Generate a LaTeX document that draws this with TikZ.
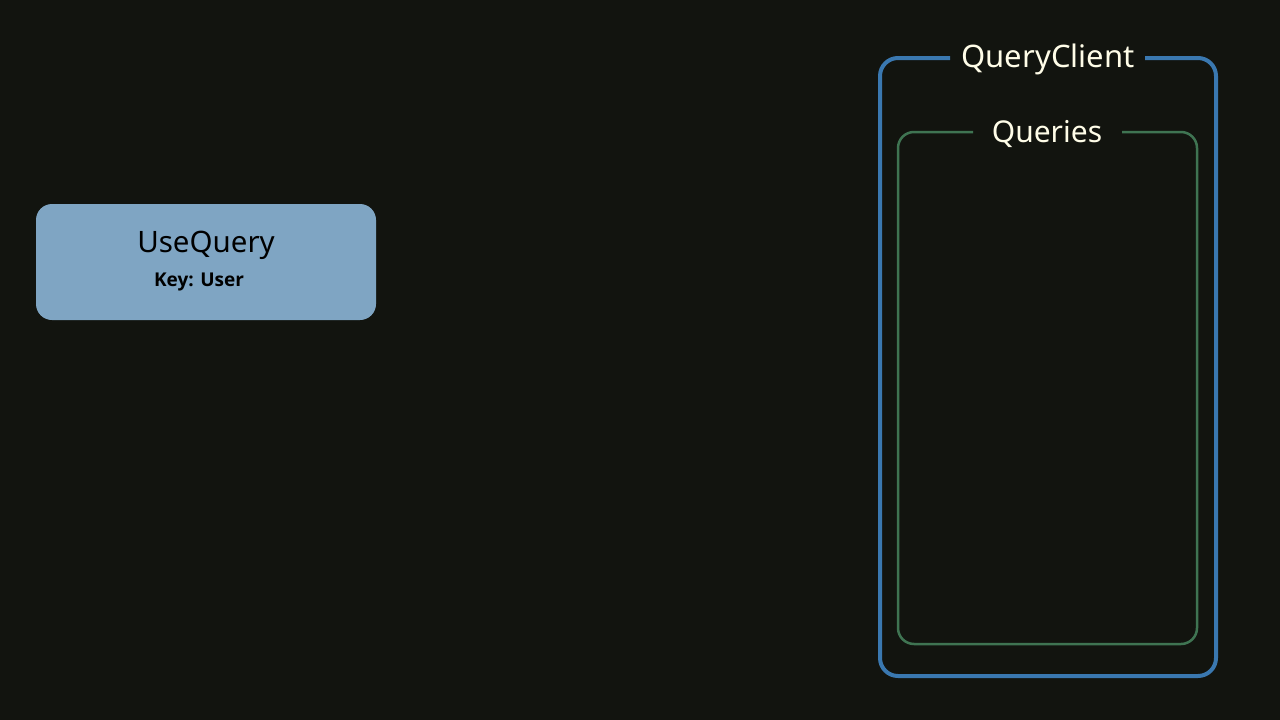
\documentclass[tikz,border=0pt]{standalone}
\usepackage{fontspec}
\setmainfont{Noto Sans}
\newfontfamily\keyfont{Open Sans}
\definecolor{bgc}{HTML}{12140F}
\definecolor{boxfill}{HTML}{7FA5C3}
\definecolor{outerc}{HTML}{3A78B0}
\definecolor{innerc}{HTML}{3F7452}
\definecolor{titlec}{HTML}{FFFDE8}
\begin{document}
\begin{tikzpicture}[x=1pt,y=-1pt,
  usebox/.style={fill=boxfill, rounded corners=16pt},
  frametitle/.style={text=titlec, inner sep=0pt, anchor=center}]
\fill[bgc] (0,0) rectangle (1280,720);
\useasboundingbox (0,0) rectangle (1280,720);
% UseQuery box
\fill[usebox] (36,204) rectangle (376,320);
\node[inner sep=0pt, text=black, font=\fontsize{29.5}{32}\selectfont] (uq) at (206,245) {UseQuery};
\node[inner sep=0pt, text=black, font=\keyfont\bfseries\fontsize{19}{22}\selectfont] (key) at (199,282) {Key: User};
% outer frame
\node[frametitle, font=\fontsize{31}{34}\selectfont] (qc) at (1048,59) {QueryClient};
\draw[outerc, line width=4pt, rounded corners=18pt] (950,58) -- (880,58) -- (880,676) -- (1216,676) -- (1216,58) -- (1145,58);
% inner frame
\node[frametitle, font=\fontsize{30}{33}\selectfont] (qs) at (1047,134) {Queries};
\draw[innerc, line width=2.5pt, rounded corners=16pt] (973,132) -- (898,132) -- (898,644) -- (1197,644) -- (1197,132) -- (1122,132);
\end{tikzpicture}
\end{document}
